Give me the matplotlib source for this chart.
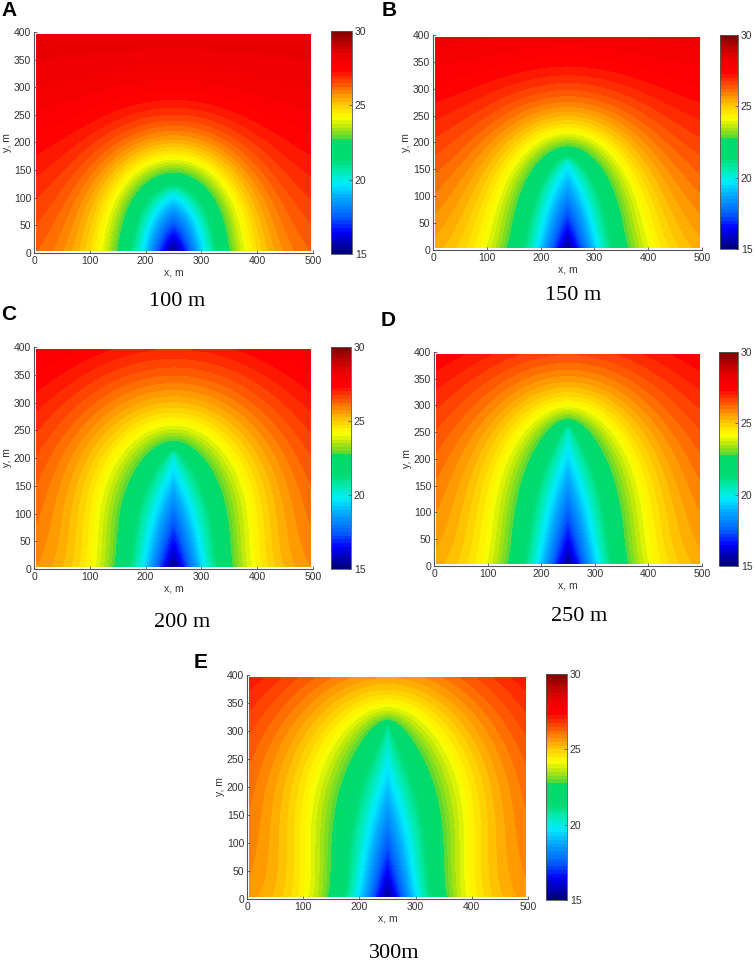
import numpy as np
import matplotlib
matplotlib.use("Agg")
import matplotlib.pyplot as plt
from matplotlib.colors import LinearSegmentedColormap

# panels: injection length, shape of the cold plume
letters = ["A", "B", "C", "D", "E"]
titles = ["100 m", "150 m", "200 m", "250 m", "300m"]
tip_y = [110, 165, 210, 260, 310]          # top of the cold core, m
t_tip = [20.0, 20.0, 20.2, 20.4, 20.7]     # core temperature at its tip
t_core = [15.0, 15.0, 15.0, 15.0, 15.0]    # core temperature at y = 0
core_shape = [1.0, 0.85, 0.85, 0.8, 0.75]
lam_side = [95, 95, 95, 95, 92]            # lateral decay, m
p_side = [1.3, 1.2, 1.2, 1.2, 1.2]
lam_up = [150, 160, 200, 190, 240]         # upward decay, m
p_up = [1.7, 1.5, 1.17, 1.17, 1.0]
t_amb_bottom = [26.6, 25.8, 26.2, 25.8, 26.0]
t_amb_top = [28.5, 28.2, 28.3, 27.9, 28.2]

x_ticks = [0, 100, 200, 300, 400, 500]
y_ticks = [0, 50, 100, 150, 200, 250, 300, 350, 400]
cbar_ticks = [15, 20, 25, 30]

# colour stops (temperature, rgb) of the colour bar
cmap_stops = [
    (15.0, (0.00, 0.00, 0.45)),
    (16.5, (0.00, 0.00, 1.00)),
    (17.4, (0.00, 0.35, 1.00)),
    (18.8, (0.00, 0.67, 1.00)),
    (19.7, (0.00, 0.93, 1.00)),
    (20.6, (0.00, 0.92, 0.68)),
    (21.3, (0.00, 0.86, 0.45)),
    (22.75, (0.00, 0.86, 0.42)),
    (22.85, (0.35, 0.85, 0.20)),
    (23.5, (0.70, 0.90, 0.05)),
    (24.2, (1.00, 1.00, 0.00)),
    (25.0, (1.00, 0.80, 0.00)),
    (25.8, (1.00, 0.55, 0.00)),
    (26.6, (1.00, 0.27, 0.00)),
    (27.4, (1.00, 0.00, 0.00)),
    (28.3, (0.93, 0.00, 0.00)),
    (29.1, (0.75, 0.00, 0.00)),
    (30.0, (0.50, 0.00, 0.00)),
]
cmap = LinearSegmentedColormap.from_list(
    "temp", [((t - 15) / 15, c) for t, c in cmap_stops], N=512)

# axes rects [left, bottom, width, height], colour bar rects, titles, letters
ax_rects = [
    [0.0451, 0.7373, 0.3700, 0.2295],
    [0.5743, 0.7404, 0.3568, 0.2233],
    [0.0451, 0.4091, 0.3700, 0.2305],
    [0.5756, 0.4123, 0.3554, 0.2222],
    [0.3276, 0.0665, 0.3727, 0.2326],
]
cb_rects = [
    [0.4390, 0.7363, 0.0279, 0.2316],
    [0.9549, 0.7414, 0.0239, 0.2222],
    [0.4390, 0.4091, 0.0265, 0.2305],
    [0.9536, 0.4123, 0.0252, 0.2222],
    [0.7241, 0.0654, 0.0279, 0.2347],
]
title_xy = [(177, 302), (573, 295), (182, 622), (579, 616), (394, 953)]
letter_xy = [(9, 11), (389, 10), (9, 315), (388, 320), (201, 662)]

W, H = 754, 963
plt.rcParams['font.family'] = ['Liberation Sans', 'DejaVu Sans']
fig = plt.figure(figsize=(W / 100, H / 100), dpi=100)

xg = np.linspace(5, 495, 246)
yg = np.linspace(5, 395, 196)
X, Y = np.meshgrid(xg, yg)
levels = np.linspace(15, 30, 61)
gray = "#555555"


def temp_field(c, t0, t1, q, ls, ps, lu, pu, tb, tt):
    # confocal elliptic coordinates around the core segment x=250, 0..c
    dx = X - 250
    r1 = np.hypot(dx, Y - c)
    r2 = np.hypot(dx, Y + c)
    ch = np.maximum((r1 + r2) / (2 * c), 1.0)
    rho = c * np.sqrt(ch ** 2 - 1)
    cos_nu = np.clip(Y / (c * ch), 0, 1)
    wgt = cos_nu ** 1.5
    lam = ls + (lu - ls) * wgt
    p = ps + (pu - ps) * wgt
    g = np.exp(-(rho / lam) ** p)
    tc = t0 + (t1 - t0) * cos_nu ** q
    amb = tb + (tt - tb) * Y / 400
    return amb - (amb - tc) * g


for i in range(5):
    ax = fig.add_axes(ax_rects[i])
    T = temp_field(tip_y[i], t_core[i], t_tip[i], core_shape[i],
                   lam_side[i], p_side[i], lam_up[i], p_up[i],
                   t_amb_bottom[i], t_amb_top[i])
    cf = ax.contourf(X, Y, np.clip(T, 15, 30), levels=levels, cmap=cmap,
                     vmin=15, vmax=30)
    ax.set_xlim(0, 500)
    ax.set_ylim(0, 400)
    ax.set_xticks(x_ticks)
    ax.set_yticks(y_ticks)
    ax.tick_params(direction="in", length=2.5, width=0.6, labelsize=7.5,
                   colors=gray, labelcolor="#333333", pad=2)
    for sp in ["top", "right"]:
        ax.spines[sp].set_visible(False)
    for sp in ["left", "bottom"]:
        ax.spines[sp].set_color(gray)
        ax.spines[sp].set_linewidth(0.8)
    ax.set_xlabel("x, m", fontsize=7.5, color="#333333", labelpad=1)
    ax.set_ylabel("y, m", fontsize=7.5, color="#333333", labelpad=1)

    cax = fig.add_axes(cb_rects[i])
    cb = fig.colorbar(cf, cax=cax, ticks=cbar_ticks)
    cb.outline.set_edgecolor(gray)
    cb.outline.set_linewidth(0.6)
    cax.tick_params(direction="in", length=2, width=0.6, labelsize=7.5,
                    colors=gray, labelcolor="#333333", pad=2)

    tx, ty = title_xy[i]
    fig.text(tx / W, 1 - ty / H, titles[i], ha="center", va="center",
             fontsize=16, family=["Liberation Serif", "DejaVu Serif"])
    lx, ly = letter_xy[i]
    fig.text(lx / W, 1 - ly / H, letters[i], ha="center", va="center",
             fontsize=15, fontweight="bold")

fig.savefig("out.png", dpi=100)
